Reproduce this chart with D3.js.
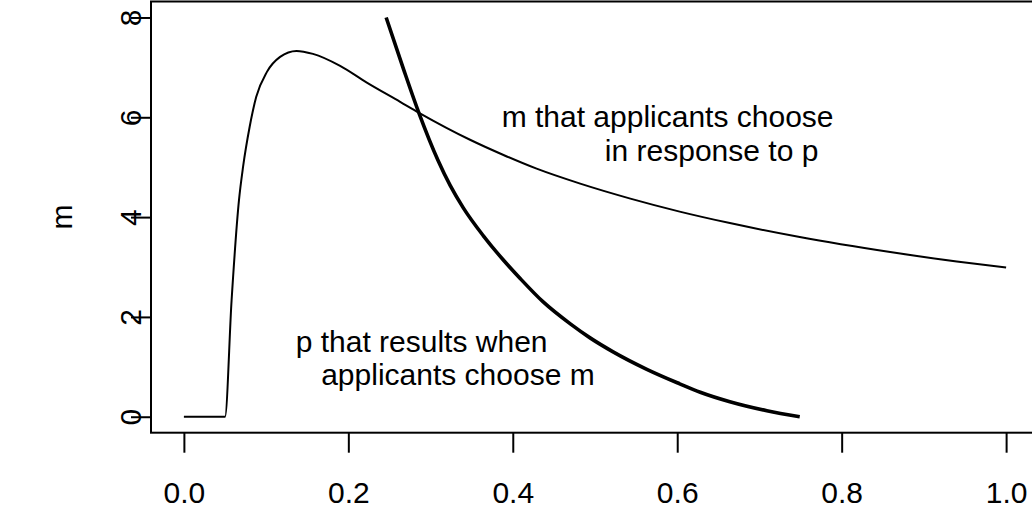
<!DOCTYPE html>
<html>
<head>
<meta charset="utf-8">
<script src="https://cdn.jsdelivr.net/npm/d3@7"></script>
<style>
  body { margin: 0; background: #fff; }
  text { font-family: "Liberation Sans", Arial, Helvetica, sans-serif; fill: #000; }
</style>
</head>
<body>
<div id="chart"></div>
<script>
// m that applicants choose in response to p (thin curve)
var respP = [0, 0.05, 0.058, 0.067, 0.072, 0.080, 0.088, 0.101, 0.117, 0.137, 0.157, 0.19, 0.222, 0.263, 0.286, 0.348, 0.388, 0.429, 0.482, 0.543, 0.603, 0.664, 0.749, 0.859, 0.940, 1.0];
var respM = [0, 0, 2.33, 4.34, 5.01, 5.81, 6.41, 6.91, 7.21, 7.33, 7.27, 7.03, 6.70, 6.31, 6.09, 5.55, 5.25, 4.97, 4.67, 4.37, 4.11, 3.88, 3.60, 3.30, 3.11, 2.99];

// p that results when applicants choose m (thick curve)
var resultP = [0.246, 0.267, 0.286, 0.309, 0.324, 0.340, 0.364, 0.388, 0.409, 0.437, 0.470, 0.494, 0.522, 0.563, 0.603, 0.628, 0.664, 0.709, 0.749];
var resultM = [8.0, 6.97, 6.08, 5.14, 4.63, 4.18, 3.63, 3.15, 2.77, 2.30, 1.86, 1.58, 1.30, 0.95, 0.66, 0.49, 0.30, 0.12, 0.0];

var xTicks = [0, 0.2, 0.4, 0.6, 0.8, 1.0];
var yTicks = [0, 2, 4, 6, 8];
var yLabel = "m";

// annotation lines: text, p where line starts, m of baseline
var noteText = ["m that applicants choose", "in response to p", "p that results when", "applicants choose m"];
var noteP = [0.3865, 0.512, 0.136, 0.167];
var noteM = [5.81, 5.12, 1.30, 0.64];

var width = 1032, height = 513;
var fontSize = 30;

var svg = d3.select("#chart")
  .append("svg")
  .attr("width", width)
  .attr("height", height);

// R style 4% padding on both axes
var x = d3.scaleLinear().domain([-0.04, 1.04]).range([151, 1039]);
var y = d3.scaleLinear().domain([-0.32, 8.32]).range([432.7, 1.5]);

// box
svg.append("rect")
  .attr("x", x(-0.04))
  .attr("y", y(8.32))
  .attr("width", x(1.04) - x(-0.04))
  .attr("height", y(-0.32) - y(8.32))
  .attr("fill", "none")
  .attr("stroke", "#000")
  .attr("stroke-width", 2);

// x axis
var xAxis = svg.append("g")
  .attr("transform", "translate(0," + y(-0.32) + ")")
  .call(d3.axisBottom(x).tickValues(xTicks).tickSize(20).tickPadding(29)
    .tickFormat(d3.format(".1f")));
xAxis.select(".domain").remove();
xAxis.selectAll("line").attr("stroke", "#000").attr("stroke-width", 2);
xAxis.selectAll("text")
  .attr("font-size", fontSize)
  .attr("font-family", "'Liberation Sans', Arial, sans-serif");

// y axis with rotated labels
var yAxis = svg.append("g")
  .attr("transform", "translate(" + x(-0.04) + ",0)")
  .call(d3.axisLeft(y).tickValues(yTicks).tickSize(20).tickFormat(d3.format("d")));
yAxis.select(".domain").remove();
yAxis.selectAll("line").attr("stroke", "#000").attr("stroke-width", 2);
yAxis.selectAll("text")
  .attr("x", 0)
  .attr("dy", 0)
  .attr("text-anchor", "middle")
  .attr("transform", "translate(-10,0) rotate(-90)")
  .attr("font-size", fontSize)
  .attr("font-family", "'Liberation Sans', Arial, sans-serif");

svg.append("text")
  .attr("transform", "translate(72," + y(4) + ") rotate(-90)")
  .attr("text-anchor", "middle")
  .attr("font-size", fontSize)
  .text(yLabel);

// curves
var resp = respP.map(function(p, i) { return { p: p, m: respM[i] }; });
var result = resultP.map(function(p, i) { return { p: p, m: resultM[i] }; });

var line = d3.line()
  .x(function(d) { return x(d.p); })
  .y(function(d) { return y(d.m); })
  .curve(d3.curveMonotoneX);

svg.append("path")
  .datum(resp)
  .attr("d", line)
  .attr("fill", "none")
  .attr("stroke", "#000")
  .attr("stroke-width", 2);

svg.append("path")
  .datum(result)
  .attr("d", line)
  .attr("fill", "none")
  .attr("stroke", "#000")
  .attr("stroke-width", 3.6);

// annotations
svg.selectAll(".note")
  .data(noteText)
  .enter()
  .append("text")
  .attr("class", "note")
  .attr("x", function(d, i) { return x(noteP[i]); })
  .attr("y", function(d, i) { return y(noteM[i]); })
  .attr("font-size", fontSize)
  .text(function(d) { return d; });
</script>
</body>
</html>
